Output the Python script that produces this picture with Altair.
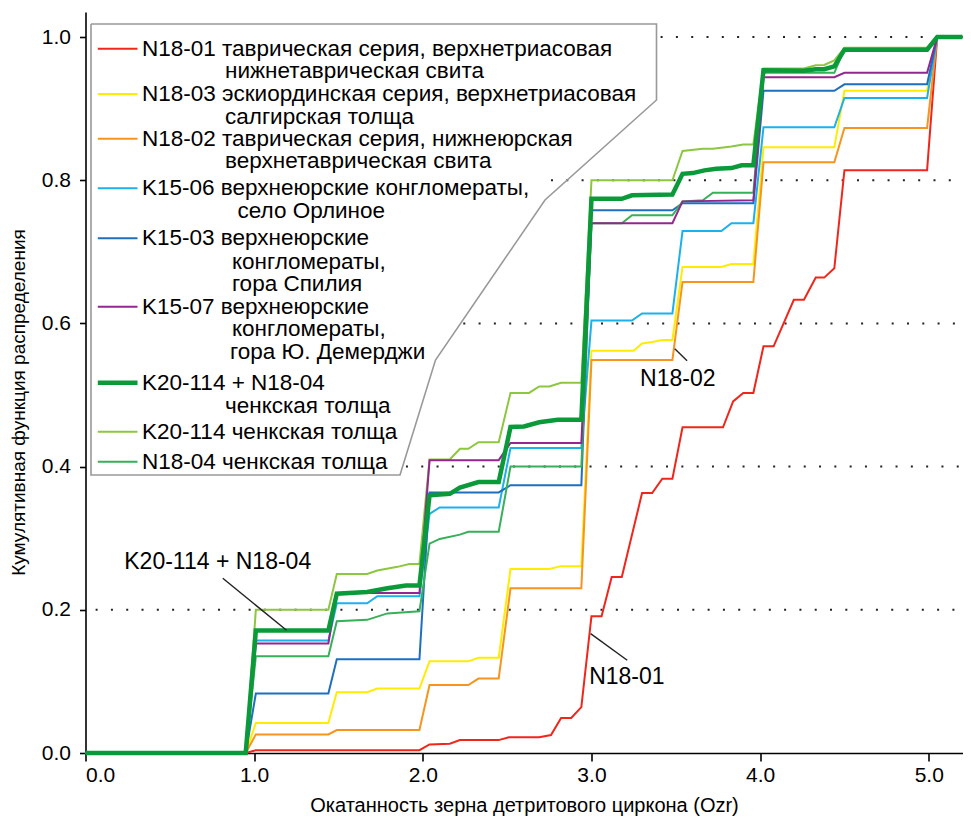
import altair as alt
import pandas as pd

# ---------------- data ----------------
names = ["N18-01", "N18-03", "N18-02", "K15-06", "K15-03", "K15-07",
         "K20-114 + N18-04", "K20-114", "N18-04"]
colors = ["#f0261b", "#ffec00", "#f7941d", "#1cb0ec", "#1f6fbf", "#92278f",
          "#0b9a3a", "#8dc63f", "#37b05a"]
widths = [2, 2, 2, 2, 2, 2, 4.5, 2, 2]

N18_01_x = [0, 0.95, 1.01, 1.98, 2.04, 2.16, 2.22, 2.45, 2.51, 2.69, 2.76, 2.82, 2.88, 2.94,
            3.0, 3.06, 3.12, 3.18, 3.30, 3.36, 3.42, 3.48, 3.54, 3.78, 3.84, 3.90, 3.96,
            4.02, 4.08, 4.20, 4.26, 4.33, 4.38, 4.44, 4.50, 4.99, 5.05, 5.2]
N18_01_y = [0, 0, 0.004, 0.004, 0.012, 0.013, 0.018, 0.018, 0.022, 0.022, 0.025, 0.049, 0.049, 0.064,
            0.191, 0.191, 0.246, 0.246, 0.363, 0.363, 0.383, 0.383, 0.455, 0.455, 0.491, 0.503, 0.503,
            0.568, 0.568, 0.633, 0.633, 0.664, 0.664, 0.677, 0.814, 0.814, 1.0, 1.0]

N18_03_x = [0, 0.95, 1.01, 1.44, 1.49, 1.67, 1.73, 1.98, 2.04, 2.27, 2.33, 2.45, 2.52, 2.75, 2.82,
            2.94, 3.0, 3.25, 3.30, 3.36, 3.42, 3.48, 3.54, 3.77, 3.83, 3.96, 4.02, 4.44, 4.50,
            4.99, 5.05, 5.2]
N18_03_y = [0, 0, 0.042, 0.042, 0.085, 0.085, 0.090, 0.090, 0.128, 0.128, 0.133, 0.133, 0.257, 0.257, 0.261,
            0.261, 0.562, 0.562, 0.572, 0.574, 0.577, 0.577, 0.679, 0.679, 0.683, 0.683, 0.846, 0.846, 0.925,
            0.925, 1.0, 1.0]

N18_02_x = [0, 0.95, 1.01, 1.44, 1.49, 1.98, 2.04, 2.27, 2.33, 2.45, 2.52, 2.94, 3.0, 3.48, 3.54,
            3.96, 4.02, 4.44, 4.50, 4.99, 5.05, 5.2]
N18_02_y = [0, 0, 0.026, 0.026, 0.032, 0.032, 0.095, 0.095, 0.104, 0.104, 0.230, 0.230, 0.549, 0.549, 0.658,
            0.658, 0.825, 0.825, 0.873, 0.873, 1.0, 1.0]

K15_06_x = [0, 0.95, 1.01, 1.44, 1.49, 1.67, 1.73, 1.98, 2.04, 2.10, 2.45, 2.52, 2.94, 3.0, 3.24,
            3.30, 3.48, 3.54, 3.77, 3.83, 3.96, 4.02, 4.44, 4.50, 4.99, 5.05, 5.2]
K15_06_y = [0, 0, 0.157, 0.157, 0.209, 0.209, 0.219, 0.219, 0.334, 0.343, 0.343, 0.426, 0.426, 0.604, 0.604,
            0.614, 0.614, 0.729, 0.729, 0.740, 0.740, 0.874, 0.874, 0.915, 0.915, 1.0, 1.0]

K15_03_x = [0, 0.95, 1.01, 1.44, 1.49, 1.98, 2.04, 2.45, 2.52, 2.94, 3.0, 3.48, 3.54, 3.96, 4.02,
            4.44, 4.50, 4.99, 5.05, 5.2]
K15_03_y = [0, 0, 0.083, 0.083, 0.131, 0.131, 0.364, 0.364, 0.374, 0.374, 0.758, 0.758, 0.768, 0.768, 0.925,
            0.925, 0.934, 0.934, 1.0, 1.0]

K15_07_x = [0, 0.95, 1.01, 1.44, 1.49, 1.98, 2.04, 2.45, 2.52, 2.94, 3.0, 3.48, 3.54, 3.96, 4.02,
            4.44, 4.50, 4.99, 5.05, 5.2]
K15_07_y = [0, 0, 0.153, 0.153, 0.2235, 0.2235, 0.409, 0.409, 0.433, 0.433, 0.740, 0.740, 0.7705, 0.772, 0.944,
            0.944, 0.950, 0.950, 1.0, 1.0]

K20_N18_x = [0, 0.95, 1.01, 1.44, 1.49, 1.67, 1.79, 1.90, 1.98, 2.04, 2.16, 2.22, 2.33, 2.45, 2.52,
             2.60, 2.69, 2.80, 2.94, 3.0, 3.18, 3.24, 3.48, 3.54, 3.60, 3.67, 3.74, 3.83, 3.89,
             3.96, 4.02, 4.26, 4.33, 4.38, 4.44, 4.50, 4.99, 5.05, 5.2]
K20_N18_y = [0, 0, 0.171, 0.171, 0.2226, 0.225, 0.230, 0.234, 0.234, 0.360, 0.362, 0.3707, 0.3785, 0.3785, 0.4553,
             0.456, 0.462, 0.4656, 0.4656, 0.774, 0.774, 0.779, 0.780, 0.809, 0.810, 0.8138, 0.816, 0.817, 0.8208,
             0.8208, 0.9535, 0.953, 0.955, 0.955, 0.959, 0.9824, 0.9824, 1.0, 1.0]

K20_x = [0, 0.95, 1.01, 1.44, 1.49, 1.67, 1.73, 1.85, 1.92, 1.98, 2.04, 2.16, 2.22, 2.27, 2.33,
         2.45, 2.52, 2.63, 2.69, 2.75, 2.82, 2.94, 3.0, 3.48, 3.54, 3.66, 3.72, 3.83, 3.90,
         3.96, 4.02, 4.26, 4.33, 4.38, 4.44, 4.50, 4.99, 5.05, 5.2]
K20_y = [0, 0, 0.200, 0.200, 0.250, 0.250, 0.255, 0.260, 0.264, 0.264, 0.410, 0.410, 0.425, 0.425, 0.434,
         0.434, 0.503, 0.503, 0.512, 0.512, 0.517, 0.517, 0.800, 0.800, 0.841, 0.844, 0.844, 0.847, 0.850,
         0.850, 0.956, 0.956, 0.9605, 0.961, 0.9675, 0.985, 0.985, 1.0, 1.0]

N18_04_x = [0, 0.95, 1.01, 1.44, 1.49, 1.67, 1.79, 1.98, 2.04, 2.10, 2.22, 2.27, 2.45, 2.52, 2.94,
            3.0, 3.18, 3.24, 3.48, 3.54, 3.66, 3.72, 3.96, 4.02, 4.44, 4.50, 4.99, 5.05, 5.2]
N18_04_y = [0, 0, 0.135, 0.135, 0.184, 0.186, 0.195, 0.198, 0.2925, 0.299, 0.305, 0.309, 0.309, 0.400, 0.400,
            0.740, 0.740, 0.751, 0.751, 0.7705, 0.772, 0.7827, 0.7827, 0.950, 0.950, 0.983, 0.983, 1.0, 1.0]

series_x = [N18_01_x, N18_03_x, N18_02_x, K15_06_x, K15_03_x, K15_07_x, K20_N18_x, K20_x, N18_04_x]
series_y = [N18_01_y, N18_03_y, N18_02_y, K15_06_y, K15_03_y, K15_07_y, K20_N18_y, K20_y, N18_04_y]

# legend texts (series index, line text)
legend_lines = [
    (0, "N18-01 таврическая серия, верхнетриасовая"), (0, "нижнетаврическая свита"),
    (1, "N18-03 эскиординская серия, верхнетриасовая"), (1, "салгирская толща"),
    (2, "N18-02 таврическая серия, нижнеюрская"), (2, "верхнетаврическая свита"),
    (3, "K15-06 верхнеюрские конгломераты,"), (3, "село Орлиное"),
    (4, "K15-03 верхнеюрские"), (4, "конгломераты,"), (4, "гора Спилия"),
    (5, "K15-07 верхнеюрские"), (5, "конгломераты,"), (5, "гора Ю. Демерджи"),
    (6, "K20-114 + N18-04"), (6, "ченкская толща"),
    (7, "K20-114 ченкская толща"),
    (8, "N18-04 ченкская толща"),
]

x_ticks = [0, 1, 2, 3, 4, 5]
y_ticks = [0, 0.2, 0.4, 0.6, 0.8, 1.0]

# ---------------- layout ----------------
W, H = 877, 741
XMAX, YMAX = 5.2, 1.035
FONT = "Liberation Sans"


def dx(px):  # plot-relative pixel -> data x
    return px / W * XMAX


def dy(py):  # plot-relative pixel -> data y
    return YMAX - py / H * YMAX


xs = alt.Scale(domain=[0, XMAX], nice=False, zero=False)
ys = alt.Scale(domain=[0, YMAX], nice=False, zero=False)

# gridlines (start right of the white legend box)
grid_df = pd.DataFrame({"y": [0.2, 0.4, 0.6, 0.8, 1.0],
                        "x0": [0.06, 1.90, 2.24, 2.76, 3.41], "x1": [XMAX] * 5})
grid = alt.Chart(grid_df).mark_rule(color="#222", strokeWidth=2, strokeDash=[2, 13.3]).encode(
    x=alt.X("x0:Q", scale=xs), x2="x1:Q", y=alt.Y("y:Q", scale=ys))

# legend box polygon (plot-relative pixels)
poly_px = [(5.5, 12), (571, 12), (571, 88), (459.5, 188), (350, 348), (314.5, 463), (5.5, 463), (5.5, 12)]
poly_df = pd.DataFrame({"x": [dx(p[0]) for p in poly_px], "y": [dy(p[1]) for p in poly_px],
                        "o": range(len(poly_px))})
box = alt.Chart(poly_df).mark_line(color="#999999", strokeWidth=1.6).encode(
    x=alt.X("x:Q", scale=xs), y=alt.Y("y:Q", scale=ys), order="o:Q")

# series lines
layers = []
draw_order = [0, 1, 2, 3, 4, 7, 8, 5, 6]
for k in draw_order:
    df = pd.DataFrame({"ozr": series_x[k], "cdf": series_y[k], "i": range(len(series_x[k]))})
    layers.append(alt.Chart(df).mark_line(color=colors[k], strokeWidth=widths[k], strokeJoin="miter").encode(
        x=alt.X("ozr:Q", scale=xs,
                axis=alt.Axis(values=x_ticks, format=".1f", grid=False,
                              title="Окатанность зерна детритового циркона (Ozr)")),
        y=alt.Y("cdf:Q", scale=ys,
                axis=alt.Axis(values=y_ticks, format=".1f", grid=False,
                              title="Кумулятивная функция распределения")),
        order="i:Q"))

# legend symbols and text
row_y = [36.8, 59.3, 82, 104.8, 126.8, 149.3, 176.3, 199, 226.3, 249.8, 272.3, 294.7, 317.2, 339.7,
         370.7, 394, 419.7, 449.7]
indent = [56.5, 139.5, 56.5, 139.5, 56.5, 139.5, 56.5, 152, 56.5, 146.4, 146.4, 56.5, 146.4, 144.5,
          56.5, 139.5, 56.5, 56.5]
txt_df = pd.DataFrame({"t": [l[1] for l in legend_lines],
                       "x": [dx(v) for v in indent], "y": [dy(v) for v in row_y]})
leg_text = alt.Chart(txt_df).mark_text(align="left", baseline="middle", fontSize=22.5, font=FONT,
                                       color="black").encode(
    x=alt.X("x:Q", scale=xs), y=alt.Y("y:Q", scale=ys), text="t:N")

sym_rows = []
seen = set()
for (k, _), yv in zip(legend_lines, row_y):
    if k not in seen:
        seen.add(k)
        sym_rows.append({"x0": dx(12.3), "x1": dx(52), "y": dy(yv), "c": colors[k], "w": widths[k]})
sym_df = pd.DataFrame(sym_rows)
leg_sym = alt.Chart(sym_df).mark_rule().encode(
    x=alt.X("x0:Q", scale=xs), x2="x1:Q", y=alt.Y("y:Q", scale=ys),
    color=alt.Color("c:N", scale=None), strokeWidth=alt.StrokeWidth("w:Q", scale=None))

# annotations
ann_df = pd.DataFrame({
    "t": ["K20-114 + N18-04", "N18-02", "N18-01"],
    "x": [0.784, 3.512, 3.21], "y": [0.2663, 0.5226, 0.1058]})
ann_text = alt.Chart(ann_df).mark_text(align="center", baseline="middle", fontSize=23, font=FONT,
                                       color="black").encode(
    x=alt.X("x:Q", scale=xs), y=alt.Y("y:Q", scale=ys), text="t:N")
lead_df = pd.DataFrame({"x": [0.814, 3.494, 2.995], "y": [0.244, 0.5648, 0.1668],
                        "x2": [1.192, 3.567, 3.212], "y2": [0.1714, 0.548, 0.1295]})
leaders = alt.Chart(lead_df).mark_rule(color="#222", strokeWidth=1.4).encode(
    x=alt.X("x:Q", scale=xs), y=alt.Y("y:Q", scale=ys), x2="x2:Q", y2="y2:Q")

chart = alt.layer(grid, box, *layers, leg_sym, leg_text, leaders, ann_text).properties(
    width=W, height=H, autosize="none",
    padding={"left": 77.5, "top": 4, "right": 0, "bottom": 70},
).configure_view(stroke=None).configure_axis(
    labelFont=FONT, titleFont=FONT, labelFontSize=21, titleFontSize=20,
    labelColor="black", titleColor="black", titleFontWeight="normal",
    domainColor="black", tickColor="black", domainWidth=1.6, tickWidth=1.6,
).configure_axisX(
    tickSize=8, labelPadding=3, titleY=52, titleBaseline="middle",
).configure_axisY(
    tickSize=6, labelPadding=9, titleX=-67.5, titleY=390, titleBaseline="middle",
    titleFontSize=19,
)

chart.save("out.html", embed_options={"renderer": "svg", "actions": False})
